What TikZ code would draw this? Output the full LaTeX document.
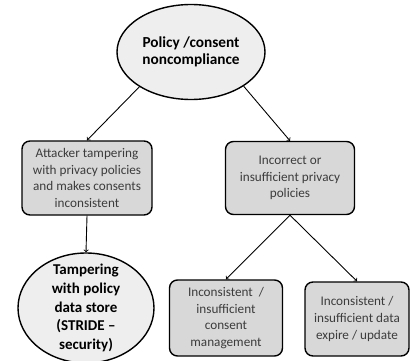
\documentclass[tikz,border=0pt]{standalone}
\usepackage{fontspec}
\setmainfont{Carlito}
\usetikzlibrary{arrows,shapes.geometric}
\definecolor{ovalfill}{RGB}{238,238,238}
\definecolor{boxfill}{RGB}{216,216,216}
\definecolor{boxtext}{RGB}{60,60,60}

\begin{document}
\begin{tikzpicture}[line cap=round,line join=round,>=to,x=1pt,y=-1pt,
  goal/.style={ellipse,draw,line width=1.4pt,fill=ovalfill,align=center,inner sep=0pt},
  cause/.style={rectangle,rounded corners=8pt,draw,line width=1.4pt,fill=boxfill,align=center,inner sep=0pt,
    text=boxtext,font=\fontsize{13.2}{16.8}\selectfont},
  link/.style={->,line width=0.9pt}]
\useasboundingbox (0,0) rectangle (410,361);

\node[goal,minimum width=148pt,minimum height=95pt,font=\bfseries\fontsize{15.3}{17}\selectfont] (root) at (191,52) {Policy /consent\\noncompliance};
\node[cause,minimum width=130pt,minimum height=74pt] (attack) at (87,178) {Attacker tampering\\with privacy policies\\and makes consents\\inconsistent};
\node[cause,minimum width=129pt,minimum height=73pt] (incorrect) at (290,178) {Incorrect or\\insufficient privacy\\policies};
\node[goal,minimum width=136pt,minimum height=110pt,inner ysep=-8pt,font=\bfseries\fontsize{15}{18.7}\selectfont] (store) at (86,308) {Tampering\\with policy\\data store\\(STRIDE –\\security)};
\node[cause,minimum width=113pt,minimum height=76pt] (consent) at (226,318) {Inconsistent~~/\\insufficient\\consent\\management};
\node[cause,minimum width=104pt,minimum height=74pt] (expire) at (357,319) {Inconsistent /\\insufficient data\\expire / update};

\draw[link] (root.214) -- (attack.north);
\draw[link] (root.327) -- (incorrect.north);
\draw[link] (attack.south) -- (store.north);
\draw[link] (incorrect.south) -- (consent.north);
\draw[link] (incorrect.south) -- (expire.north);

\end{tikzpicture}
\end{document}
